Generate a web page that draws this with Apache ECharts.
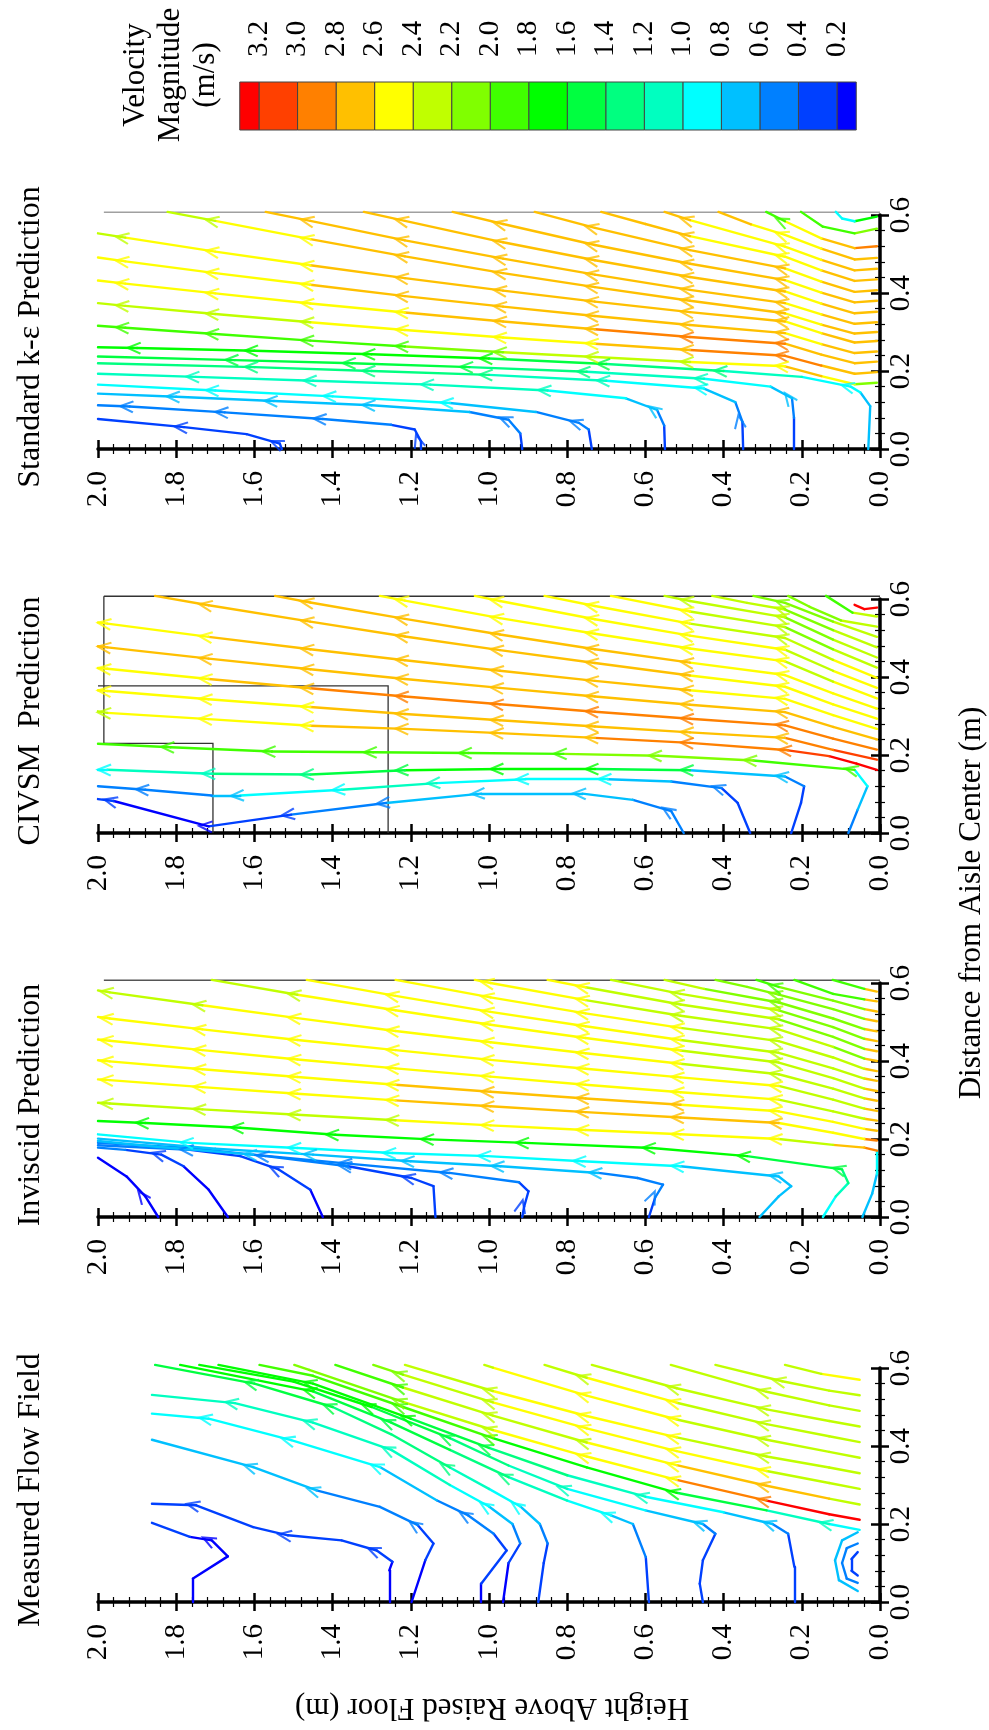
<!DOCTYPE html>
<html><head><meta charset="utf-8">
<script src="https://cdn.jsdelivr.net/npm/echarts/dist/echarts.min.js"></script>
<style>html,body{margin:0;padding:0;background:#fff}#c{width:989px;height:1730px}</style>
</head><body><div id="c"></div>
<script>
// ---------- tick labels / legend ----------
const heightTicks = ['0.0','0.2','0.4','0.6','0.8','1.0','1.2','1.4','1.6','1.8','2.0'];
const distanceTicks = ['0.0','0.2','0.4','0.6'];
const legendLevels = [0.2,0.4,0.6,0.8,1.0,1.2,1.4,1.6,1.8,2.0,2.2,2.4,2.6,2.8,3.0,3.2];
const legendColors = ['#0000FF','#0040FF','#0080FF','#00C0FF','#00FFFF','#00FFC0','#00FF80','#00FF40','#00FF00','#40FF00','#80FF00','#C0FF00','#FFFF00','#FFC000','#FF8000','#FF4000','#FF0000'];
const panelTitles = ['Standard k-\u03b5 Prediction','CIVSM  Prediction','Inviscid Prediction','Measured Flow Field'];

// ---------- streamlines: [height, distance, velocity, arrow?] ----------
const keLines = [
 [[1.53,0,0.3],[1.535,0.014,0.3,1],[1.62,0.038,0.3],[1.78,0.056,0.3,1],[2.0,0.077,0.3]],
 [[1.174,0,0.3],[1.174,0.02,0.3,1],[1.19,0.05,0.4],[1.25,0.062,0.5],[1.425,0.077,0.5,1],[1.676,0.094,0.5,1],[1.919,0.109,0.5,1],[2.0,0.112,0.5]],
 [[0.915,0,0.3],[0.92,0.04,0.5],[0.95,0.075,0.5,1],[1.05,0.095,0.7],[1.3,0.112,0.7,1],[1.55,0.123,0.7,1],[1.8,0.134,0.7,1],[2.0,0.142,0.7]],
 [[0.737,0,0.3],[0.745,0.05,0.5],[0.77,0.067,0.5,1],[0.88,0.095,0.7],[1.1,0.118,0.9,1],[1.4,0.135,0.9,1],[1.7,0.15,0.9,1],[2.0,0.165,0.9]],
 [[0.55,0,0.3],[0.552,0.06,0.5],[0.57,0.1,0.7,1],[0.65,0.13,0.9],[0.85,0.15,1.1,1],[1.15,0.165,1.1,1],[1.45,0.175,1.1,1],[1.75,0.185,1.1,1],[2.0,0.193,1.1]],
 [[0.35,0,0.3],[0.352,0.07,0.5,1],[0.37,0.12,0.7],[0.45,0.155,0.9,1],[0.7,0.175,1.1,1],[1.0,0.19,1.3,1],[1.3,0.2,1.3,1],[1.6,0.21,1.3,1],[2.0,0.22,1.3]],
 [[0.22,0,0.3],[0.22,0.08,0.5],[0.225,0.13,0.7,1],[0.28,0.16,0.9],[0.45,0.18,1.1,1],[0.75,0.198,1.3,1],[1.05,0.21,1.5,1],[1.35,0.22,1.5,1],[1.65,0.228,1.5,1],[2.0,0.237,1.5]],
 [[0.03,0,0.7],[0.025,0.11,0.7],[0.05,0.145,0.9],[0.075,0.16,0.9,1],[0.2,0.185,1.1],[0.4,0.2,1.3,1],[0.7,0.218,1.5,1],[1.0,0.232,1.7,1],[1.3,0.243,1.7,1],[1.6,0.252,1.7,1],[1.9,0.259,1.7,1],[2.0,0.261,1.7]],
 [[0.008,0.596,1.7],[0.065,0.584,0.9],[0.097,0.591,0.9],[0.113,0.608,0.9]],
 [[0.008,0.565,2.1],[0.065,0.553,1.9],[0.146,0.57,1.9],[0.202,0.608,1.9]],
 [[0.008,0.52,2.9],[0.065,0.515,2.7],[0.15,0.54,2.5],[0.243,0.584,1.9,1],[0.291,0.608,1.9]],
 [[0.008,0.49,2.7],[0.065,0.486,2.7],[0.15,0.514,2.5],[0.243,0.549,2.5,1],[0.33,0.576,2.7],[0.413,0.608,2.7]],
 [[0.008,0.462,2.7],[0.065,0.458,2.7],[0.15,0.485,2.5],[0.243,0.519,2.5,1],[0.486,0.587,2.7,1],[0.551,0.608,2.7]],
 [[0.008,0.435,2.7],[0.065,0.431,2.7],[0.15,0.458,2.5],[0.243,0.493,2.5,1],[0.486,0.546,2.7,1],[0.6,0.577,2.7],[0.713,0.608,2.7]],
 [[0.008,0.407,2.7],[0.065,0.403,2.7],[0.15,0.429,2.5],[0.243,0.463,2.7,1],[0.486,0.51,2.7,1],[0.729,0.567,2.7,1],[0.883,0.608,2.7]],
 [[0.008,0.38,2.7],[0.065,0.376,2.7],[0.15,0.401,2.5],[0.243,0.433,2.7,1],[0.486,0.475,2.7,1],[0.729,0.523,2.7,1],[0.964,0.577,2.7,1],[1.093,0.608,2.7]],
 [[0.008,0.352,2.7],[0.065,0.348,2.7],[0.15,0.373,2.5],[0.243,0.404,2.7,1],[0.486,0.441,2.7,1],[0.729,0.484,2.7,1],[0.964,0.53,2.7,1],[1.215,0.585,2.7,1],[1.32,0.608,2.7]],
 [[0.008,0.325,2.7],[0.065,0.321,2.7],[0.15,0.345,2.5],[0.243,0.374,2.7,1],[0.486,0.408,2.7,1],[0.729,0.447,2.7,1],[0.964,0.488,2.7,1],[1.215,0.535,2.7,1],[1.457,0.585,2.7,1],[1.571,0.608,2.7]],
 [[0.008,0.30,2.7],[0.065,0.296,2.7],[0.15,0.319,2.5],[0.243,0.348,2.7,1],[0.486,0.38,2.7,1],[0.729,0.415,2.7,1],[0.964,0.451,2.7,1],[1.215,0.494,2.7,1],[1.457,0.538,2.5,1],[1.70,0.585,2.3,1],[1.822,0.608,2.3]],
 [[0.008,0.277,2.7],[0.065,0.273,2.7],[0.15,0.297,2.5],[0.243,0.327,2.7,1],[0.486,0.351,2.7,1],[0.729,0.378,2.7,1],[0.964,0.406,2.7,1],[1.215,0.438,2.7,1],[1.457,0.471,2.5,1],[1.70,0.506,2.5,1],[1.93,0.542,2.3,1],[2.0,0.553,2.3]],
 [[0.008,0.25,2.7],[0.065,0.246,2.7],[0.15,0.269,2.5],[0.243,0.297,2.7,1],[0.486,0.318,2.7,1],[0.729,0.341,2.7,1],[0.964,0.365,2.7,1],[1.215,0.392,2.7,1],[1.457,0.421,2.5,1],[1.70,0.451,2.5,1],[1.93,0.481,2.5,1],[2.0,0.491,2.5]],
 [[0.008,0.224,2.7],[0.065,0.22,2.7],[0.15,0.242,2.7],[0.243,0.27,2.9,1],[0.486,0.287,2.9,1],[0.729,0.307,2.7,1],[0.964,0.327,2.7,1],[1.215,0.35,2.5,1],[1.457,0.373,2.5,1],[1.70,0.399,2.5,1],[1.93,0.424,2.5,1],[2.0,0.432,2.5]],
 [[0.008,0.197,2.7],[0.065,0.193,2.7],[0.15,0.214,2.9],[0.243,0.239,2.9,1],[0.486,0.254,2.7,1],[0.729,0.27,2.5,1],[0.964,0.286,2.5,1],[1.215,0.305,2.5,1],[1.457,0.325,2.3,1],[1.70,0.346,2.3,1],[1.93,0.367,2.3,1],[2.0,0.374,2.3]],
 [[0.008,0.17,2.1],[0.065,0.166,2.5],[0.15,0.187,2.7],[0.243,0.212,2.5,1],[0.486,0.223,2.3,1],[0.729,0.236,2.3,1],[0.964,0.248,2.1,1],[1.215,0.263,1.9,1],[1.457,0.278,1.9,1],[1.70,0.295,1.9,1],[1.93,0.311,1.9,1],[2.0,0.316,1.9]]
];

const civsmLines = [
 [[0.502,0,0.5],[0.534,0.056,0.5,1],[0.632,0.085,0.7],[0.761,0.101,0.7,1],[1.02,0.101,0.7,1],[1.263,0.077,0.5,1],[1.506,0.047,0.3,1],[1.717,0.017,0.1,1],[1.96,0.082,0.3,1],[2.0,0.087,0.3]],
 [[0.332,0,0.3],[0.364,0.077,0.3],[0.405,0.115,0.5,1],[0.534,0.132,0.7],[0.696,0.138,0.9,1],[0.907,0.138,0.9,1],[1.134,0.128,1.1,1],[1.377,0.111,0.9,1],[1.636,0.096,0.7,1],[1.709,0.096,0.5],[1.879,0.111,0.5,1],[2.0,0.12,0.5]],
 [[0.227,0,0.3],[0.202,0.077,0.3],[0.194,0.12,0.5],[0.243,0.145,0.7,1],[0.486,0.161,1.5,1],[0.729,0.164,1.7,1],[0.972,0.164,1.7,1],[1.215,0.161,1.5,1],[1.457,0.15,1.3,1],[1.709,0.152,1.1,1],[1.976,0.162,0.9,1],[2.0,0.162,0.9]],
 [[0.081,0,0.5],[0.057,0.06,0.7],[0.032,0.12,0.9],[0.065,0.162,1.9,1],[0.324,0.186,2.1,1],[0.567,0.198,2.1,1],[0.81,0.203,1.9,1],[1.053,0.205,1.9,1],[1.296,0.207,1.9,1],[1.555,0.209,1.9,1],[1.814,0.22,1.9,1],[2.0,0.229,1.9]],
 [[0.008,0.578,3.3],[0.04,0.574,3.3],[0.065,0.585,3.3]],
 [[0.008,0.555,2.3],[0.07,0.565,1.9],[0.138,0.608,1.9]],
 [[0.008,0.529,2.3],[0.1,0.545,2.1],[0.18,0.58,2.1],[0.235,0.608,2.1]],
 [[0.008,0.503,2.3],[0.12,0.542,2.1],[0.243,0.59,2.1,1],[0.324,0.608,2.1]],
 [[0.008,0.476,2.3],[0.12,0.52,2.1],[0.243,0.573,2.3,1],[0.34,0.59,2.3],[0.429,0.608,2.3]],
 [[0.008,0.45,2.3],[0.12,0.496,2.1],[0.243,0.553,2.3,1],[0.486,0.595,2.3,1],[0.551,0.608,2.3]],
 [[0.008,0.424,2.3],[0.12,0.471,2.1],[0.243,0.528,2.3,1],[0.486,0.568,2.5,1],[0.688,0.608,2.3]],
 [[0.008,0.398,2.5],[0.12,0.444,2.3],[0.243,0.50,2.3,1],[0.486,0.537,2.5,1],[0.729,0.582,2.5,1],[0.858,0.608,2.5]],
 [[0.008,0.372,2.5],[0.12,0.416,2.3],[0.243,0.47,2.5,1],[0.486,0.506,2.5,1],[0.729,0.548,2.5,1],[0.972,0.595,2.5,1],[1.036,0.608,2.5]],
 [[0.008,0.345,2.5],[0.12,0.388,2.3],[0.243,0.44,2.5,1],[0.486,0.473,2.5,1],[0.729,0.511,2.5,1],[0.972,0.551,2.5,1],[1.215,0.596,2.5,1],[1.279,0.608,2.5]],
 [[0.008,0.319,2.5],[0.12,0.358,2.5],[0.243,0.405,2.5,1],[0.486,0.437,2.7,1],[0.729,0.471,2.7,1],[0.972,0.509,2.7,1],[1.215,0.549,2.7,1],[1.457,0.591,2.7,1],[1.547,0.608,2.7]],
 [[0.008,0.293,2.5],[0.12,0.33,2.5],[0.243,0.375,2.5,1],[0.486,0.404,2.7,1],[0.729,0.436,2.7,1],[0.972,0.469,2.7,1],[1.215,0.504,2.7,1],[1.457,0.542,2.7,1],[1.717,0.584,2.7,1],[1.854,0.608,2.1]],
 [[0.008,0.267,2.5],[0.12,0.302,2.5],[0.243,0.344,2.5,1],[0.486,0.366,2.7,1],[0.729,0.39,2.7,1],[0.972,0.416,2.7,1],[1.215,0.443,2.7,1],[1.457,0.471,2.7,1],[1.717,0.503,2.5,1],[1.976,0.537,2.5,1],[2.0,0.54,2.5]],
 [[0.008,0.24,2.7],[0.12,0.272,2.7],[0.243,0.31,2.7,1],[0.486,0.329,2.7,1],[0.729,0.35,2.7,1],[0.972,0.372,2.7,1],[1.215,0.395,2.7,1],[1.457,0.42,2.7,1],[1.717,0.447,2.7,1],[1.976,0.476,2.7,1],[2.0,0.479,2.7]],
 [[0.008,0.214,2.9],[0.12,0.242,2.9],[0.243,0.276,2.9,1],[0.486,0.293,2.9,1],[0.729,0.311,2.9,1],[0.972,0.33,2.9,1],[1.215,0.35,2.9,1],[1.457,0.371,2.7,1],[1.717,0.395,2.5,1],[1.976,0.421,2.5,1],[2.0,0.423,2.5]],
 [[0.008,0.188,3.1],[0.12,0.213,2.9],[0.243,0.244,2.7,1],[0.486,0.258,2.7,1],[0.729,0.273,2.7,1],[0.972,0.289,2.7,1],[1.215,0.305,2.7,1],[1.457,0.323,2.5,1],[1.717,0.343,2.5,1],[1.976,0.364,2.5,1],[2.0,0.366,2.5]],
 [[0.008,0.162,3.3],[0.06,0.178,3.3],[0.13,0.197,3.1],[0.235,0.212,2.9,1],[0.486,0.231,2.9,1],[0.729,0.244,2.7,1],[0.972,0.256,2.7,1],[1.215,0.267,2.7,1],[1.457,0.275,2.5,1],[1.717,0.292,2.5,1],[1.976,0.308,2.3,1],[2.0,0.312,2.3]]
];

const inviscidLines = [
 [[1.846,0,0.1],[1.879,0.053,0.1,1],[1.927,0.104,0.1],[2.0,0.152,0.1]],
 [[1.668,0,0.1],[1.717,0.07,0.1],[1.781,0.13,0.3],[1.838,0.16,0.3,1],[1.93,0.172,0.5],[2.0,0.178,0.5]],
 [[1.425,0,0.1],[1.457,0.07,0.3],[1.538,0.122,0.3,1],[1.636,0.156,0.3],[1.765,0.172,0.5,1],[2.0,0.184,0.5]],
 [[1.137,0,0.3],[1.142,0.079,0.3],[1.198,0.1,0.3,1],[1.36,0.13,0.5,1],[1.571,0.156,0.5,1],[1.765,0.177,0.5],[2.0,0.19,0.5]],
 [[0.915,0,0.3],[0.91,0.027,0.3,1],[0.899,0.066,0.3],[0.923,0.089,0.5],[1.101,0.113,0.5,1],[1.36,0.137,0.5,1],[1.603,0.16,0.7,1],[1.85,0.18,0.7],[2.0,0.195,0.7]],
 [[0.591,0,0.3],[0.575,0.05,0.5,1],[0.555,0.083,0.5],[0.62,0.1,0.5],[0.72,0.113,0.7,1],[0.97,0.13,0.7,1],[1.2,0.143,0.7,1],[1.45,0.16,0.7,1],[1.7,0.175,0.7],[2.0,0.201,0.7]],
 [[0.308,0,0.7],[0.259,0.053,0.7],[0.227,0.079,0.7],[0.259,0.104,0.7,1],[0.51,0.13,0.9,1],[0.761,0.143,0.9,1],[1.004,0.156,0.9,1],[1.247,0.164,0.9,1],[1.49,0.177,0.9,1],[1.765,0.19,0.9,1],[2.0,0.212,0.9]],
 [[0.146,0,0.9],[0.113,0.053,1.1],[0.081,0.087,1.3],[0.097,0.122,1.5,1],[0.34,0.156,1.7,1],[0.583,0.177,1.7,1],[0.907,0.19,1.7,1],[1.15,0.199,1.7,1],[1.393,0.211,1.7,1],[1.636,0.229,1.7,1],[1.879,0.241,1.7,1],[2.0,0.246,1.7]],
 [[0.045,0,0.7],[0.02,0.06,0.7],[0.008,0.11,0.9],[0.008,0.17,2.9],[0.04,0.178,2.7],[0.12,0.185,2.3],[0.259,0.2,2.5,1],[0.51,0.212,2.5,1],[0.753,0.223,2.5,1],[0.996,0.235,2.5,1],[1.239,0.248,2.3,1],[1.49,0.262,2.3,1],[1.733,0.276,2.3,1],[1.97,0.291,2.3,1],[2.0,0.293,2.3]],
 [[0.008,0.196,2.9],[0.04,0.2,2.5],[0.12,0.216,2.5],[0.259,0.241,2.7,1],[0.51,0.255,2.7,1],[0.753,0.269,2.7,1],[0.996,0.284,2.7,1],[1.239,0.299,2.5,1],[1.49,0.316,2.5,1],[1.733,0.333,2.5,1],[1.97,0.351,2.5,1],[2.0,0.353,2.5]],
 [[0.008,0.221,2.7],[0.04,0.226,2.5],[0.12,0.244,2.5],[0.259,0.271,2.5,1],[0.51,0.288,2.7,1],[0.753,0.304,2.7,1],[0.996,0.321,2.7,1],[1.239,0.339,2.5,1],[1.49,0.359,2.5,1],[1.733,0.379,2.5,1],[1.97,0.399,2.5,1],[2.0,0.402,2.5]],
 [[0.008,0.247,2.7],[0.04,0.252,2.3],[0.12,0.271,2.3],[0.259,0.301,2.5,1],[0.51,0.32,2.5,1],[0.753,0.339,2.5,1],[0.996,0.36,2.5,1],[1.239,0.381,2.5,1],[1.49,0.404,2.5,1],[1.733,0.428,2.5,1],[1.97,0.452,2.5,1],[2.0,0.455,2.5]],
 [[0.008,0.272,2.7],[0.04,0.278,2.3],[0.12,0.301,2.3],[0.259,0.336,2.5,1],[0.51,0.358,2.5,1],[0.753,0.38,2.5,1],[0.996,0.403,2.5,1],[1.239,0.428,2.5,1],[1.49,0.454,2.5,1],[1.733,0.481,2.5,1],[1.97,0.509,2.5,1],[2.0,0.513,2.5]],
 [[0.008,0.298,2.7],[0.04,0.304,2.3],[0.12,0.329,2.3],[0.259,0.366,2.3,1],[0.51,0.393,2.5,1],[0.753,0.42,2.5,1],[0.996,0.448,2.5,1],[1.239,0.477,2.5,1],[1.49,0.51,2.5,1],[1.733,0.543,2.3,1],[1.97,0.576,2.3,1],[2.0,0.581,2.3]],
 [[0.008,0.323,2.7],[0.04,0.329,2.3],[0.12,0.356,2.3],[0.259,0.396,2.3,1],[0.51,0.427,2.5,1],[0.753,0.459,2.5,1],[0.996,0.493,2.5,1],[1.239,0.53,2.5,1],[1.49,0.57,2.3,1],[1.709,0.608,2.3]],
 [[0.008,0.349,2.7],[0.04,0.355,2.3],[0.12,0.381,2.3],[0.259,0.421,2.3,1],[0.51,0.454,2.5,1],[0.753,0.489,2.5,1],[0.996,0.526,2.5,1],[1.239,0.567,2.5,1],[1.466,0.608,2.5]],
 [[0.008,0.374,2.7],[0.04,0.38,2.3],[0.12,0.409,2.3],[0.259,0.451,2.3,1],[0.51,0.485,2.5,1],[0.753,0.522,2.5,1],[0.996,0.563,2.5,1],[1.239,0.608,2.5]],
 [[0.008,0.4,2.7],[0.04,0.406,2.1],[0.12,0.436,2.3],[0.259,0.481,2.3,1],[0.51,0.516,2.3,1],[0.753,0.556,2.5,1],[0.996,0.6,2.5,1],[1.036,0.608,2.5]],
 [[0.008,0.425,2.7],[0.04,0.431,2.1],[0.12,0.462,2.1],[0.259,0.507,2.3,1],[0.51,0.545,2.3,1],[0.753,0.589,2.5,1],[0.85,0.608,2.5]],
 [[0.008,0.451,2.7],[0.04,0.457,2.1],[0.12,0.487,2.1],[0.259,0.53,2.3,1],[0.51,0.572,2.3,1],[0.688,0.608,2.3]],
 [[0.008,0.476,2.7],[0.04,0.482,2.1],[0.12,0.509,2.1],[0.259,0.55,2.1,1],[0.45,0.585,2.3],[0.551,0.608,2.3]],
 [[0.008,0.502,2.7],[0.04,0.508,2.1],[0.12,0.533,2.1],[0.259,0.57,2.1,1],[0.34,0.59,2.1],[0.421,0.608,2.1]],
 [[0.008,0.527,2.7],[0.04,0.533,2.1],[0.12,0.555,2.1],[0.259,0.59,1.9,1],[0.316,0.608,1.9]],
 [[0.008,0.553,2.7],[0.04,0.558,1.9],[0.12,0.572,1.9],[0.219,0.608,1.9]],
 [[0.008,0.578,2.7],[0.04,0.585,1.9],[0.121,0.608,1.9]]
];

const measuredLines = [
 [[0.057,0.028,0.7],[0.105,0.056,0.7],[0.115,0.107,0.7],[0.097,0.158,0.7],[0.057,0.179,0.7]],
 [[0.057,0.049,0.5],[0.085,0.06,0.5],[0.097,0.1,0.5],[0.085,0.138,0.5],[0.057,0.15,0.5]],
 [[0.057,0.068,0.3],[0.073,0.08,0.3],[0.073,0.11,0.3],[0.057,0.128,0.3]],
 [[1.757,0,0.1],[1.757,0.06,0.1],[1.668,0.117,0.1],[1.709,0.158,0.1,1],[1.765,0.167,0.3],[1.862,0.203,0.3]],
 [[1.255,0,0.1],[1.255,0.081,0.1],[1.247,0.103,0.3],[1.287,0.132,0.3,1],[1.377,0.158,0.3],[1.514,0.171,0.3,1],[1.603,0.192,0.3],[1.749,0.248,0.3,1],[1.862,0.252,0.3]],
 [[1.198,0,0.1],[1.163,0.107,0.3],[1.142,0.15,0.3],[1.182,0.197,0.5,1],[1.279,0.244,0.5],[1.441,0.286,0.7,1],[1.603,0.346,0.7,1],[1.862,0.416,0.7]],
 [[1.02,0,0.1],[1.02,0.047,0.3],[0.955,0.132,0.3],[0.988,0.175,0.5],[1.053,0.222,0.5,1],[1.134,0.261,0.7],[1.279,0.346,0.9,1],[1.506,0.415,0.9,1],[1.717,0.47,0.9,1],[1.862,0.483,0.9]],
 [[0.964,0,0.1],[0.95,0.1,0.3],[0.92,0.15,0.5],[0.94,0.2,0.7],[1.0,0.245,0.9,1],[1.1,0.3,1.1],[1.25,0.39,1.1,1],[1.45,0.46,1.1,1],[1.65,0.51,1.1,1],[1.862,0.531,1.1]],
 [[0.874,0,0.3],[0.86,0.1,0.3],[0.85,0.15,0.5],[0.87,0.2,0.7],[0.92,0.245,0.9,1],[1.0,0.29,1.1],[1.1,0.345,1.3,1],[1.25,0.43,1.3],[1.4,0.5,1.5,1],[1.6,0.56,1.5,1],[1.854,0.608,1.5]],
 [[0.591,0,0.3],[0.599,0.115,0.5],[0.632,0.2,0.7],[0.688,0.222,0.9,1],[0.8,0.26,1.1],[0.95,0.32,1.3,1],[1.1,0.39,1.5],[1.25,0.46,1.5,1],[1.45,0.54,1.7,1],[1.79,0.608,1.7]],
 [[0.453,0,0.3],[0.461,0.047,0.3],[0.453,0.107,0.3],[0.421,0.175,0.5],[0.453,0.2,0.7,1],[0.6,0.235,0.9],[0.8,0.29,1.1,1],[0.95,0.35,1.3],[1.1,0.42,1.5,1],[1.3,0.5,1.7,1],[1.5,0.565,1.7],[1.741,0.608,1.7]],
 [[0.219,0,0.3],[0.219,0.09,0.3],[0.235,0.175,0.5],[0.275,0.2,0.7,1],[0.4,0.23,0.9],[0.6,0.27,1.1,1],[0.8,0.325,1.3],[1.0,0.395,1.5,1],[1.2,0.47,1.7,1],[1.45,0.56,1.7,1],[1.692,0.608,1.7]],
 [[0.052,0.185,0.9],[0.13,0.2,1.1,1],[0.29,0.235,1.5],[0.52,0.28,1.7,1],[0.75,0.345,1.7],[0.99,0.42,1.9,1],[1.22,0.5,1.9,1],[1.45,0.58,1.9],[1.587,0.608,1.9]],
 [[0.052,0.211,3.3],[0.13,0.225,3.3],[0.29,0.26,2.9,1],[0.52,0.313,2.5,1],[0.75,0.373,2.5,1],[0.99,0.441,2.3,1],[1.22,0.513,2.1,1],[1.46,0.595,2.1],[1.498,0.608,2.1]],
 [[0.052,0.25,2.3],[0.13,0.265,2.7],[0.29,0.298,2.7,1],[0.52,0.351,2.5,1],[0.75,0.409,2.3,1],[0.99,0.478,2.3,1],[1.22,0.55,1.9,1],[1.393,0.608,1.9]],
 [[0.052,0.29,2.3],[0.13,0.305,2.3],[0.29,0.336,2.5,1],[0.52,0.387,2.5,1],[0.75,0.445,2.5,1],[0.99,0.512,2.3,1],[1.22,0.583,2.1,1],[1.296,0.608,2.1]],
 [[0.052,0.33,2.3],[0.13,0.345,2.3],[0.29,0.373,2.3,1],[0.52,0.422,2.5,1],[0.75,0.477,2.5,1],[0.99,0.541,2.3,1],[1.215,0.608,2.3]],
 [[0.052,0.37,2.3],[0.13,0.385,2.3],[0.29,0.416,2.3,1],[0.52,0.468,2.5,1],[0.75,0.529,2.5,1],[0.99,0.601,2.3],[1.012,0.608,2.3]],
 [[0.052,0.41,2.3],[0.13,0.425,2.3],[0.29,0.456,2.3,1],[0.52,0.511,2.5,1],[0.75,0.575,2.3,1],[0.858,0.608,2.3]],
 [[0.052,0.45,2.3],[0.13,0.464,2.3],[0.29,0.494,2.3,1],[0.52,0.548,2.3,1],[0.737,0.608,2.3]],
 [[0.052,0.49,2.3],[0.13,0.504,2.3],[0.29,0.539,2.3,1],[0.535,0.608,2.3]],
 [[0.052,0.53,2.3],[0.13,0.542,2.3],[0.25,0.566,2.3,1],[0.421,0.608,2.3]],
 [[0.052,0.57,2.5],[0.15,0.585,2.3],[0.243,0.608,2.3]]
];

// boundary outlines [height, distance]
const keWalls = [[[1.985,0.607],[0,0.607]]];
const civsmWalls = [[[1.985,0.607],[0,0.607]], [[1.985,0.607],[1.985,0.23],[1.706,0.23],[1.706,0]], [[2.0,0.377],[1.258,0.377],[1.258,0]]];
const inviscidWalls = [[[1.985,0.607],[0,0.607]]];
const measuredWalls = [];

// ---------- build ----------
function colorOf(v){ let i=0; while(i<legendLevels.length && v>legendLevels[i]) i++; return legendColors[i]; }
const FONT = '"Liberation Serif","Times New Roman",serif';
const panels = [
  {lines:keLines, walls:keWalls, wallColor:'#a0a0a0'},
  {lines:civsmLines, walls:civsmWalls, wallColor:'#333'},
  {lines:inviscidLines, walls:inviscidWalls, wallColor:'#555'},
  {lines:measuredLines, walls:measuredWalls, wallColor:'#555'}
];
const GL = 98, GW = 782, GH = 234;
const tops = [215, 599, 983, 1368];
const PXH = GW/2, PXD = GH/0.6;

const grid=[], xAxis=[], yAxis=[], series=[];
const tickStyle = {color:'#000', width:2.5};
const minorStyle = {color:'#000', width:1.2};
panels.forEach((p,i)=>{
  grid.push({left:GL, top:tops[i], width:GW, height:GH});
  xAxis.push({gridIndex:i, type:'value', min:0, max:2, interval:0.2, inverse:true, position:'bottom',
    axisLine:{show:true, lineStyle:{color:'#000', width:3.5}},
    axisTick:{show:true, inside:true, length:9, lineStyle:tickStyle},
    minorTick:{show:true, splitNumber:5, length:5, lineStyle:minorStyle},
    axisLabel:{rotate:90, margin:22, fontFamily:FONT, fontSize:29, color:'#000', formatter:v=>heightTicks[Math.round(v/0.2)]},
    splitLine:{show:false}, minorSplitLine:{show:false}});
  xAxis.push({gridIndex:i, type:'value', min:0, max:2, interval:0.2, inverse:true, position:'top', offset:-GH,
    axisLine:{show:false}, axisTick:{show:true, inside:true, length:9, lineStyle:tickStyle},
    minorTick:{show:true, splitNumber:5, length:5, lineStyle:minorStyle},
    axisLabel:{show:false}, splitLine:{show:false}});
  yAxis.push({gridIndex:i, type:'value', min:0, max:0.6, interval:0.2, position:'right',
    axisLine:{show:true, lineStyle:{color:'#000', width:3.5}},
    axisTick:{show:true, inside:true, length:9, lineStyle:tickStyle},
    minorTick:{show:true, splitNumber:5, length:5, lineStyle:minorStyle},
    axisLabel:{rotate:90, margin:7, fontFamily:FONT, fontSize:29, color:'#000', formatter:v=>distanceTicks[Math.round(v/0.2)]},
    splitLine:{show:false}});
  yAxis.push({gridIndex:i, type:'value', min:0, max:0.6, interval:0.2, position:'left', offset:-GW,
    axisLine:{show:false}, axisTick:{show:true, inside:true, length:9, lineStyle:tickStyle},
    minorTick:{show:true, splitNumber:5, length:5, lineStyle:minorStyle},
    axisLabel:{show:false}, splitLine:{show:false}});

  const segs=[], arrows=[];
  p.lines.forEach(line=>{
    for(let k=0;k<line.length-1;k++){
      segs.push({coords:[[line[k][0],line[k][1]],[line[k+1][0],line[k+1][1]]], lineStyle:{color:colorOf(line[k][2])}});
    }
    line.forEach((pt,k)=>{
      if(pt[3]){
        const a=line[Math.max(0,k-1)], b=line[Math.min(line.length-1,k+1)];
        const dx=-(b[0]-a[0])*PXH, dy=(b[1]-a[1])*PXD;
        arrows.push({value:[pt[0],pt[1]], symbolRotate:Math.atan2(dy,dx)*180/Math.PI,
          itemStyle:{color:'rgba(0,0,0,0)', borderColor:colorOf(pt[2]), borderWidth:2.2}});
      }
    });
  });
  if(p.walls.length){
    series.push({type:'lines', coordinateSystem:'cartesian2d', xAxisIndex:2*i, yAxisIndex:2*i, polyline:true,
      data:p.walls.map(c=>({coords:c})), lineStyle:{color:p.wallColor, width:1.3, opacity:1}, clip:false, silent:true, animation:false, z:2});
  }
  series.push({type:'lines', coordinateSystem:'cartesian2d', xAxisIndex:2*i, yAxisIndex:2*i,
    data:segs, lineStyle:{width:2.4, opacity:1, cap:'round'}, clip:false, silent:true, animation:false, z:3});
  series.push({type:'scatter', xAxisIndex:2*i, yAxisIndex:2*i, data:arrows,
    symbol:'path://M0,0L10,5L0,10', symbolSize:[13,11], symbolOffset:[-3,0], clip:false, silent:true, animation:false, z:4});
});

// colour bar
const CB = 4;
grid.push({left:220.5, top:82, width:655, height:48});
xAxis.push({gridIndex:CB, type:'value', min:0, max:3.4, interval:0.2, inverse:true, position:'top',
  axisLine:{show:false}, axisTick:{show:false}, splitLine:{show:false},
  axisLabel:{rotate:90, margin:25, fontFamily:FONT, fontSize:29, color:'#000',
    formatter:v=>{const j=legendLevels.findIndex(l=>Math.abs(l-v)<1e-6); return j>=0?legendLevels[j].toFixed(1):'';}}});
yAxis.push({gridIndex:CB, type:'value', min:0, max:1, show:false});
const bins = legendColors.map((c,j)=>[j===0?legendLevels[0]-0.1:legendLevels[j-1], j===legendLevels.length?legendLevels[j-1]+0.1:legendLevels[j], j]);
series.push({type:'custom', xAxisIndex:8, yAxisIndex:8, data:bins, silent:true, animation:false,
  renderItem:(params, api)=>{
    const p1=api.coord([api.value(0),1]), p2=api.coord([api.value(1),0]);
    return {type:'rect', shape:{x:Math.min(p1[0],p2[0]), y:Math.min(p1[1],p2[1]), width:Math.abs(p2[0]-p1[0]), height:Math.abs(p2[1]-p1[1])},
      style:{fill:legendColors[api.value(2)], stroke:'#444', lineWidth:1}};
  }});

const textStyle = (t, size)=>({text:t, font:size+'px '+FONT, fill:'#000', align:'center', verticalAlign:'middle'});
const titleY = [337, 721, 1105, 1490];
const graphic = panelTitles.map((t,i)=>({type:'text', x:31, y:titleY[i], rotation:Math.PI/2, style:textStyle(t,32)}));
graphic.push({type:'text', x:492, y:1707, rotation:Math.PI, style:textStyle('Height Above Raised Floor (m)',31)});
graphic.push({type:'text', x:972, y:903, rotation:Math.PI/2, style:textStyle('Distance from Aisle Center (m)',31)});
graphic.push({type:'text', x:171, y:75, rotation:Math.PI/2, style:Object.assign(textStyle('Velocity\nMagnitude\n(m/s)',31),{lineHeight:35})});

const chart = echarts.init(document.getElementById('c'), null, {renderer:'canvas'});
chart.setOption({backgroundColor:'#fff', animation:false, grid, xAxis, yAxis, series, graphic});
</script></body></html>
